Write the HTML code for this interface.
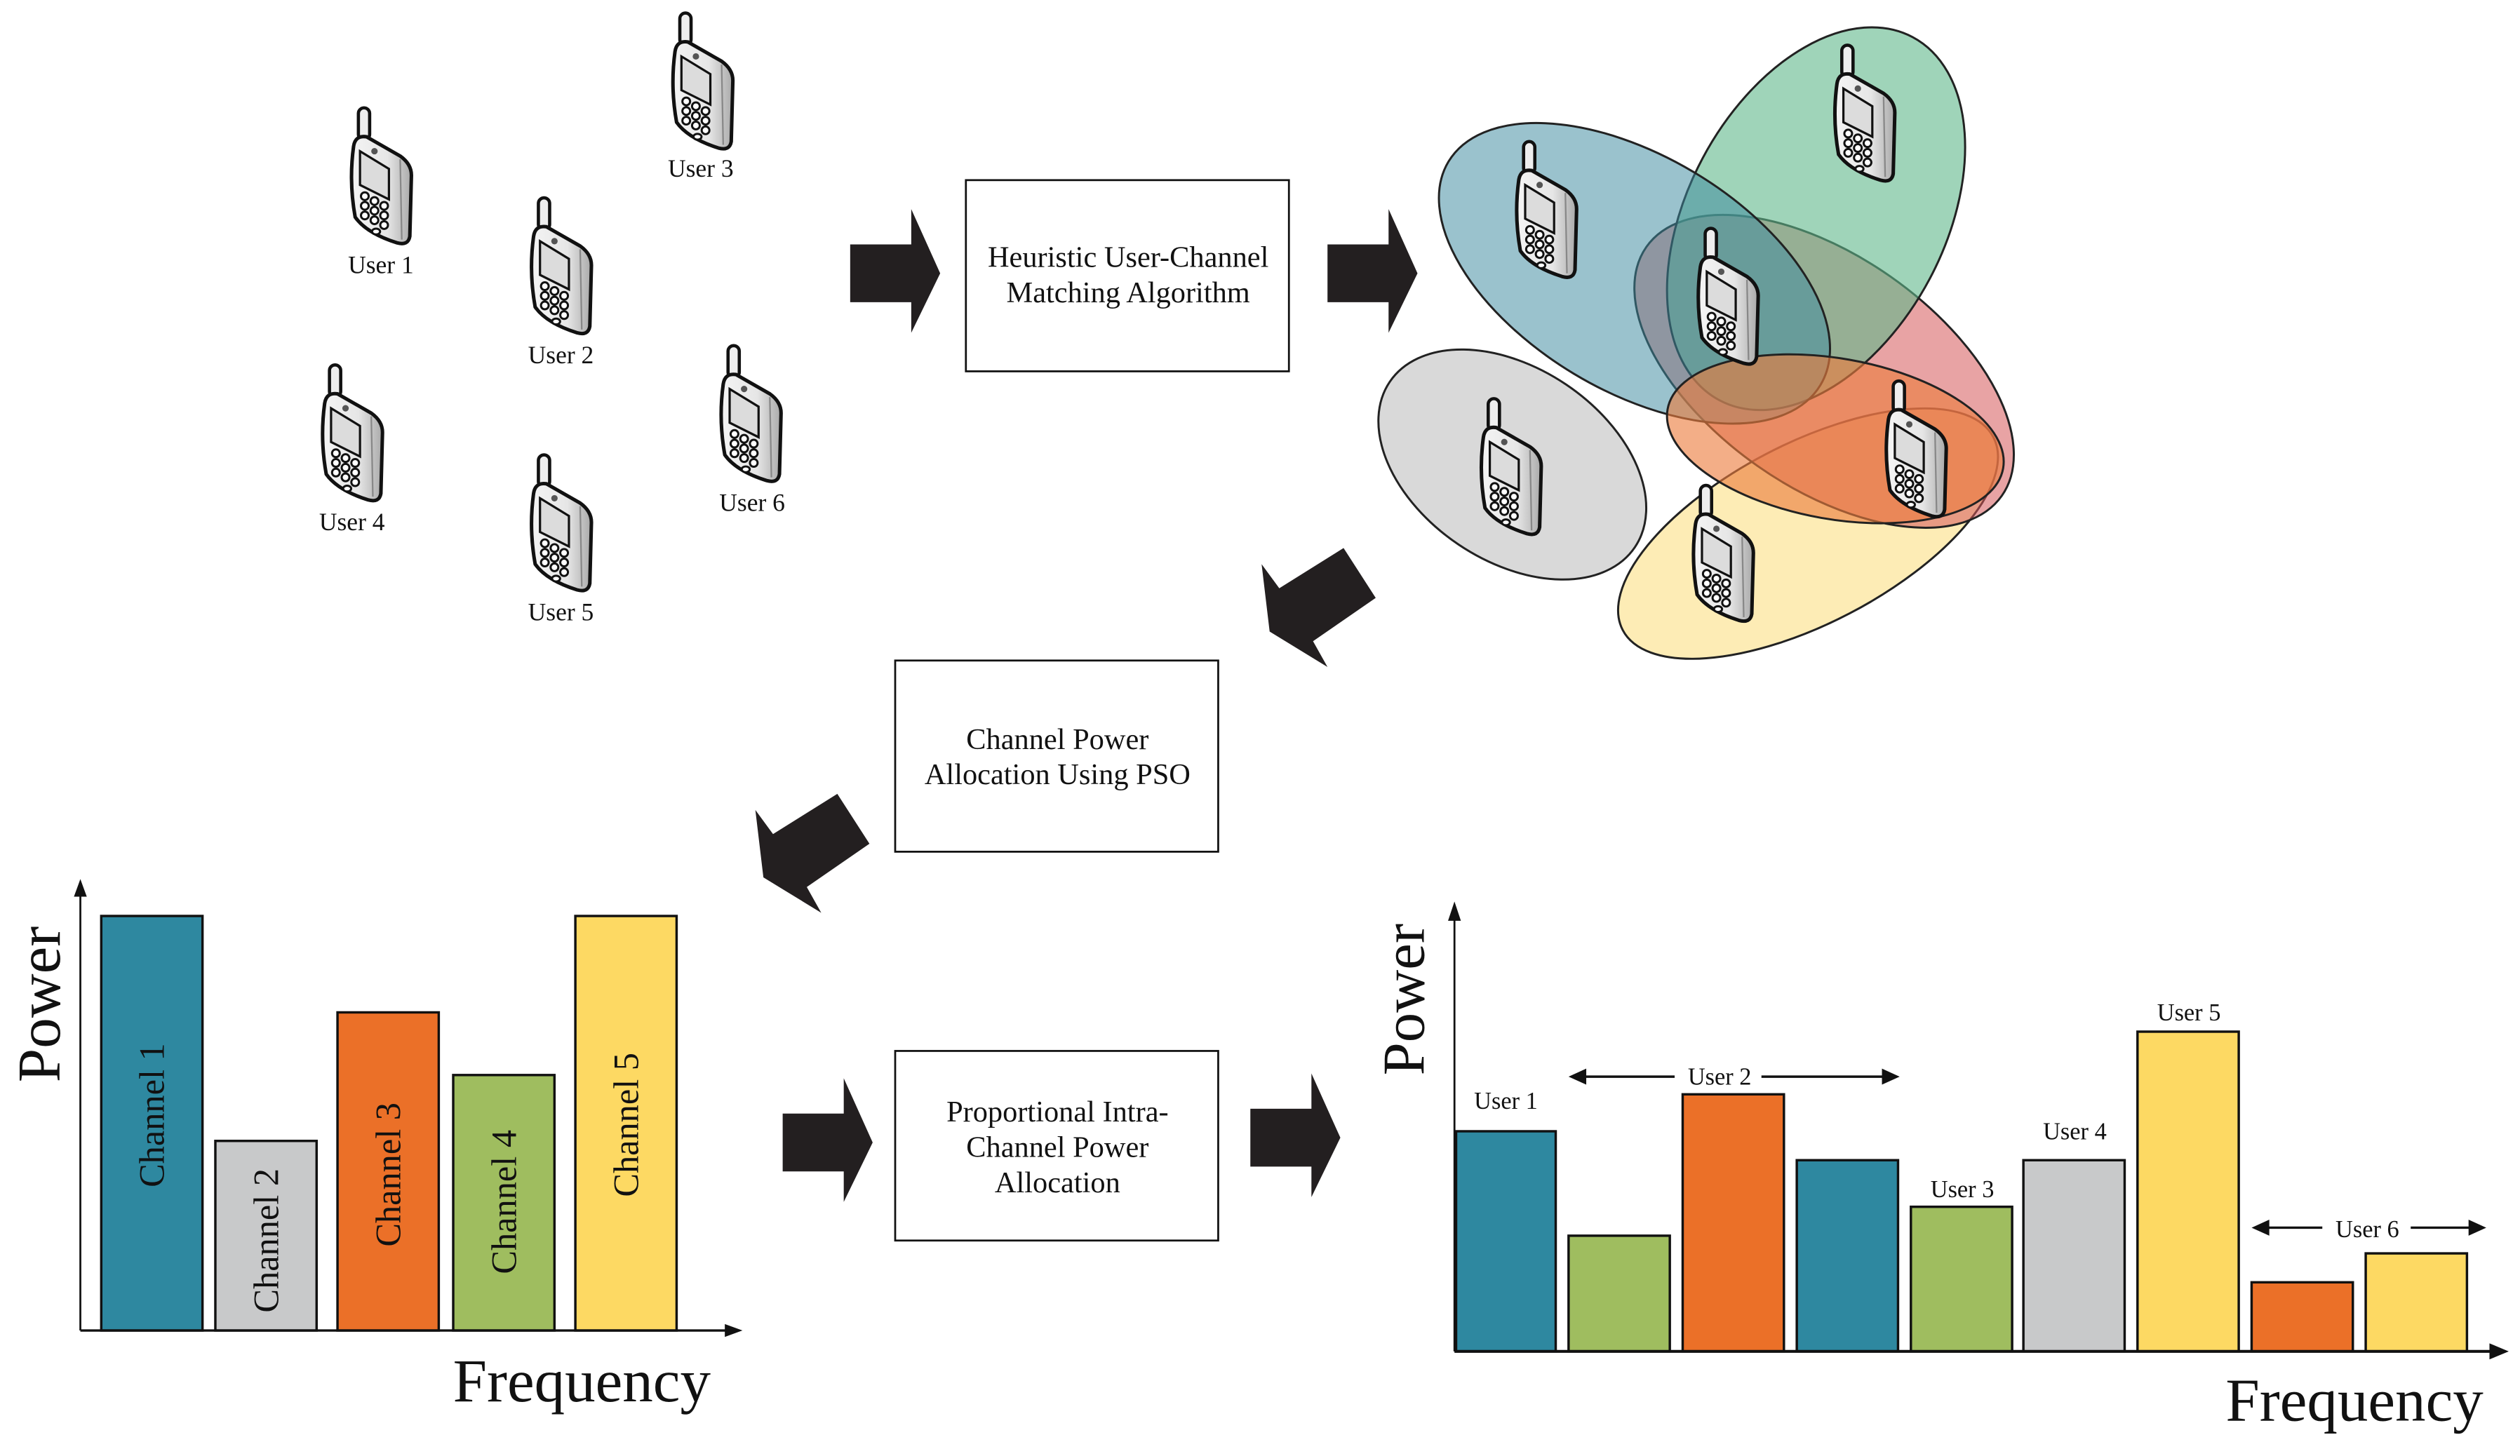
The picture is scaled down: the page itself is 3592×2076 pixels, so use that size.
<!DOCTYPE html>
<html><head><meta charset="utf-8"><style>html,body{margin:0;padding:0;background:#fff}svg{display:block}</style></head>
<body>
<svg width="3592" height="2076" viewBox="0 0 1568 906" xmlns="http://www.w3.org/2000/svg" font-family="'Liberation Serif', serif">
<defs>
<linearGradient id="pg" x1="0" x2="1" y1="0" y2="0">
<stop offset="0" stop-color="#f4f4f4"/><stop offset="0.6" stop-color="#e6e6e6"/><stop offset="1" stop-color="#a9a9a9"/></linearGradient>
<g id="phone">
<rect x="7" y="0" width="7" height="20" rx="3.5" fill="#eee" stroke="#111" stroke-width="2"/>
<path d="M4,24 Q5,17 12,18 L33,30 Q40,35 40,42 L39,80 Q38,86 31,84 Q12,78 5,68 Q1,46 4,24 Z" fill="url(#pg)" stroke="#111" stroke-width="2.2"/>
<path d="M33,32 L34,82" stroke="#888" stroke-width="1"/>
<polygon points="8,27 26,38 26,57 8,48" fill="#dcdcdc" stroke="#111" stroke-width="1.4"/>
<circle cx="17" cy="27" r="2" fill="#555"/>
<g fill="#fff" stroke="#111" stroke-width="1.3">
<circle cx="11" cy="55" r="2.4"/><circle cx="17" cy="58" r="2.4"/><circle cx="23" cy="61" r="2.4"/>
<circle cx="11" cy="61" r="2.4"/><circle cx="17" cy="64" r="2.4"/><circle cx="23" cy="67" r="2.4"/>
<circle cx="11" cy="67" r="2.4"/><circle cx="17" cy="70" r="2.4"/><circle cx="23" cy="73" r="2.4"/>
<ellipse cx="18" cy="77" rx="2.5" ry="1.8"/></g>
</g>
<polygon id="harr" points="529,152 567,152 567,130 585,170 567,207 567,188 529,188" fill="#231f20"/>
<polygon id="darr" points="785,351 796,366 836,341 856,372 817,399 826,415 790,393" fill="#231f20"/>
</defs>

<!-- users -->
<g font-size="15.5" text-anchor="middle" fill="#111">
<use href="#phone" x="216" y="67"/><text x="237" y="170">User 1</text>
<use href="#phone" x="328" y="123"/><text x="349" y="226">User 2</text>
<use href="#phone" x="416" y="8"/><text x="436" y="110">User 3</text>
<use href="#phone" x="198" y="227"/><text x="219" y="330">User 4</text>
<use href="#phone" x="328" y="283"/><text x="349" y="386">User 5</text>
<use href="#phone" x="446" y="215"/><text x="468" y="318">User 6</text>
</g>

<use href="#harr"/>
<use href="#harr" x="297"/>
<use href="#darr"/>
<use href="#darr" x="-315" y="153"/>
<use href="#harr" x="-42" y="541"/>
<use href="#harr" x="249" y="538"/>

<!-- boxes -->
<g fill="#fff" stroke="#111" stroke-width="1.2">
<rect x="601" y="112" width="201" height="119"/>
<rect x="557" y="411" width="201" height="119"/>
<rect x="557" y="654" width="201" height="118"/>
</g>
<g font-size="18.5" text-anchor="middle" fill="#111">
<text x="702" y="166">Heuristic User-Channel</text>
<text x="702" y="188">Matching Algorithm</text>
<text x="658" y="466">Channel Power</text>
<text x="658" y="488">Allocation Using PSO</text>
<text x="658" y="698">Proportional Intra-</text>
<text x="658" y="720">Channel Power</text>
<text x="658" y="742">Allocation</text>
</g>

<!-- ellipses -->
<g stroke="#222" stroke-width="1.3">
<ellipse cx="941" cy="289" rx="92" ry="60" transform="rotate(34 941 289)" fill="#d9d9d9"/>
<ellipse cx="1125" cy="332" rx="130" ry="56" transform="rotate(-27.5 1125 332)" fill="#fbdc78" fill-opacity="0.55"/>
<ellipse cx="1135" cy="231" rx="135" ry="72" transform="rotate(35 1135 231)" fill="#d6585a" fill-opacity="0.55"/>
<ellipse cx="1130" cy="136" rx="128" ry="80" transform="rotate(-62 1130 136)" fill="#5fb88a" fill-opacity="0.6"/>
<ellipse cx="1017" cy="170" rx="135" ry="73" transform="rotate(31 1017 170)" fill="#3d8aa0" fill-opacity="0.52"/>
<ellipse cx="1142" cy="273" rx="106" ry="50" transform="rotate(10 1142 273)" fill="#ec7d3e" fill-opacity="0.62"/>
</g>
<use href="#phone" x="941" y="88"/>
<use href="#phone" x="1139" y="28"/>
<use href="#phone" x="1054" y="142"/>
<use href="#phone" x="919" y="248"/>
<use href="#phone" x="1171" y="237"/>
<use href="#phone" x="1051" y="302"/>

<!-- left chart -->
<g stroke="#111" stroke-width="1.5">
<rect x="63" y="570" width="63" height="258" fill="#2e88a0"/>
<rect x="134" y="710" width="63" height="118" fill="#c8c9ca"/>
<rect x="210" y="630" width="63" height="198" fill="#eb7028"/>
<rect x="282" y="669" width="63" height="159" fill="#9fbd5f"/>
<rect x="358" y="570" width="63" height="258" fill="#fdd963"/>
</g>
<line x1="50" y1="828" x2="452" y2="828" stroke="#111" stroke-width="1.5"/>
<line x1="50" y1="828" x2="50" y2="556" stroke="#111" stroke-width="1.2"/>
<polygon points="50,547 46,558 54,558" fill="#111"/>
<polygon points="462,828 451,824 451,832" fill="#111"/>
<g font-size="22" fill="#111" text-anchor="middle">
<text transform="translate(102,694) rotate(-90)">Channel 1</text>
<text transform="translate(173,772) rotate(-90)">Channel 2</text>
<text transform="translate(249,731) rotate(-90)">Channel 3</text>
<text transform="translate(321,748) rotate(-90)">Channel 4</text>
<text transform="translate(397,700) rotate(-90)">Channel 5</text>
</g>
<text transform="translate(37,625) rotate(-90)" font-size="38" text-anchor="middle" fill="#111">Power</text>
<text x="362" y="872" font-size="38" text-anchor="middle" fill="#111">Frequency</text>

<!-- right chart -->
<g stroke="#111" stroke-width="1.5">
<rect x="906" y="704" width="62" height="137" fill="#2e88a0"/>
<rect x="976" y="769" width="63" height="72" fill="#9fbd5f"/>
<rect x="1047" y="681" width="63" height="160" fill="#eb7028"/>
<rect x="1118" y="722" width="63" height="119" fill="#2e88a0"/>
<rect x="1189" y="751" width="63" height="90" fill="#9fbd5f"/>
<rect x="1259" y="722" width="63" height="119" fill="#c8c9ca"/>
<rect x="1330" y="642" width="63" height="199" fill="#fdd963"/>
<rect x="1401" y="798" width="63" height="43" fill="#eb7028"/>
<rect x="1472" y="780" width="63" height="61" fill="#fdd963"/>
</g>
<line x1="905" y1="841" x2="1550" y2="841" stroke="#111" stroke-width="1.8"/>
<line x1="905" y1="841" x2="905" y2="570" stroke="#111" stroke-width="1.2"/>
<polygon points="905,561 901,573 909,573" fill="#111"/>
<polygon points="1561,841 1549,836 1549,846" fill="#111"/>
<g stroke="#111" stroke-width="1.5">
<line x1="985" y1="670" x2="1042" y2="670"/><line x1="1096" y1="670" x2="1173" y2="670"/>
<line x1="1410" y1="764" x2="1445" y2="764"/><line x1="1500" y1="764" x2="1538" y2="764"/>
</g>
<g fill="#111">
<polygon points="976,670 987,665 987,675"/><polygon points="1182,670 1171,665 1171,675"/>
<polygon points="1401,764 1412,759 1412,769"/><polygon points="1547,764 1536,759 1536,769"/>
</g>
<g font-size="15" fill="#111" text-anchor="middle">
<text x="937" y="690">User 1</text>
<text x="1070" y="675">User 2</text>
<text x="1221" y="745">User 3</text>
<text x="1291" y="709">User 4</text>
<text x="1362" y="635">User 5</text>
<text x="1473" y="770">User 6</text>
</g>
<text transform="translate(886,622) rotate(-90)" font-size="37" text-anchor="middle" fill="#111">Power</text>
<text x="1465" y="884" font-size="38" text-anchor="middle" fill="#111">Frequency</text>
</svg>
</body></html>
